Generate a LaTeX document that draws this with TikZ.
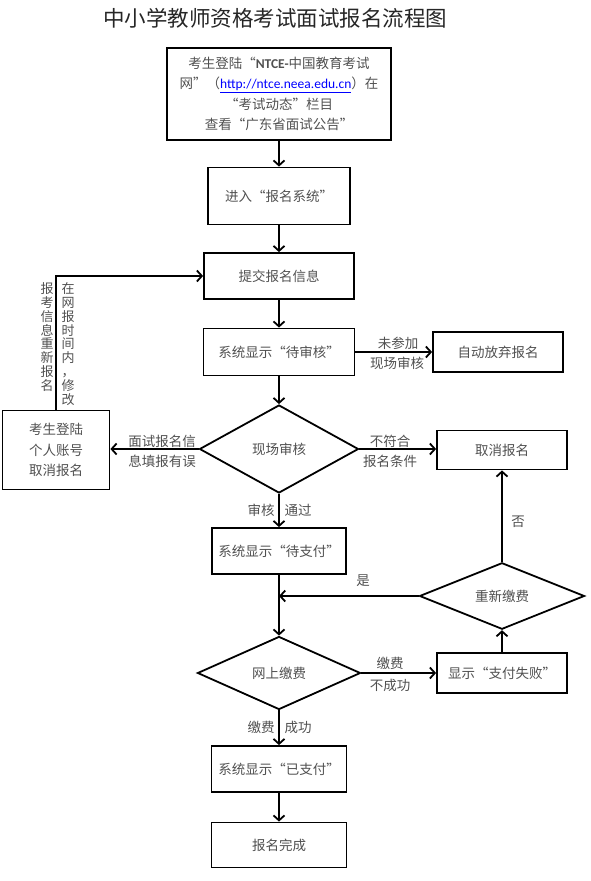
\documentclass[tikz,border=0pt]{standalone}
\usepackage{fontspec}
\setmainfont{Noto Sans CJK SC}
\newfontfamily\latfont{Carlito}
\usetikzlibrary{shapes.geometric,arrows.meta}
\definecolor{txtgray}{RGB}{80,80,80}
\tikzstyle{block} = [draw, line width=1.8pt, rectangle, text=txtgray,
    align=center, inner sep=2pt, font=\fontsize{13.5}{20.5}\selectfont]
\tikzstyle{decision} = [draw, line width=1.8pt, diamond, text=txtgray,
    inner sep=0pt, font=\fontsize{13.5}{20.5}\selectfont]
\tikzstyle{note} = [text=txtgray, inner sep=1pt, font=\fontsize{13.5}{20.5}\selectfont]
\tikzstyle{link} = [line width=1.8pt, -{Straight Barb[length=5pt,width=11pt]}]

\begin{document}
\begin{tikzpicture}[x=1pt,y=-1pt]
\useasboundingbox (0,0) rectangle (590,881);

\node[font=\fontsize{21.5}{24}\selectfont, text=black!85] (title) at (275,18) {中小学教师资格考试面试报名流程图};

% main column
\node[block, minimum width=224pt, minimum height=92pt] (login) at (279,94)
  {考生登陆“{\latfont\bfseries NTCE-}中国教育考试\\网”（{\latfont\color{blue}\underline{http://ntce.neea.edu.cn}}）在\\“考试动态”栏目\\查看“广东省面试公告”};
\node[block, minimum width=142pt, minimum height=57pt] (enter) at (279,196) {进入“报名系统”};
\node[block, minimum width=150pt, minimum height=46pt] (submit) at (279,276) {提交报名信息};
\node[block, minimum width=151pt, minimum height=47pt] (pending) at (279,352) {系统显示“待审核”};
\node[decision, minimum width=159pt, minimum height=88pt] (check) at (279,449) {现场审核};
\node[block, minimum width=134pt, minimum height=46pt] (topay) at (279,551) {系统显示“待支付”};
\node[decision, minimum width=163pt, minimum height=73pt] (pay) at (279,673) {网上缴费};
\node[block, minimum width=135pt, minimum height=46pt] (paid) at (279,769) {系统显示“已支付”};
\node[block, minimum width=135pt, minimum height=45pt] (done) at (279,845) {报名完成};

% side boxes
\node[block, minimum width=130pt, minimum height=40pt] (abandon) at (498,352) {自动放弃报名};
\node[block, minimum width=107pt, minimum height=79pt] (cancelself) at (56,450) {考生登陆\\个人账号\\取消报名};
\node[block, minimum width=130pt, minimum height=39pt] (cancel) at (502,450) {取消报名};
\node[decision, minimum width=165pt, minimum height=64pt] (retry) at (502,596) {重新缴费};
\node[block, minimum width=130pt, minimum height=40pt] (fail) at (502,673) {显示“支付失败”};

% arrows
\draw[link] (login) -- (enter);
\draw[link] (enter) -- (submit);
\draw[link] (submit) -- (pending);
\draw[link] (pending) -- (check);
\draw[link] (check) -- (topay);
\draw[link] (topay) -- (pay);
\draw[link] (pay) -- (paid);
\draw[link] (paid) -- (done);
\draw[link] (pending.east) -- (pending.east -| abandon.west);
\draw[link] (check.east) -- (check.east -| cancel.west);
\draw[link] (check.west) -- (check.west -| cancelself.east);
\draw[link] (cancelself.north) |- (submit.west);
\draw[link] (pay.east) -- (pay.east -| fail.west);
\draw[link] (fail) -- (retry);
\draw[link] (retry) -- (cancel);
\draw[link] (retry.west) -- (retry.west -| topay.south);

% labels
\node[note] (l1a) at (398,343) {未参加};
\node[note] (l1b) at (397,363) {现场审核};
\node[note] (l2a) at (390,441) {不符合};
\node[note] (l2b) at (390,461) {报名条件};
\node[note] (l3a) at (162,441) {面试报名信};
\node[note] (l3b) at (162,461) {息填报有误};
\node[note] (l4a) at (261,510) {审核};
\node[note] (l4b) at (298,510) {通过};
\node[note] (l5) at (363,581) {是};
\node[note] (l6) at (518,522) {否};
\node[note] (l7a) at (390,663) {缴费};
\node[note] (l7b) at (390,685) {不成功};
\node[note] (l8a) at (261,727) {缴费};
\node[note] (l8b) at (298,727) {成功};
\node[note, align=center, font=\fontsize{13}{13.8}\selectfont] (v1) at (47,337) {报\\考\\信\\息\\重\\新\\报\\名};
\node[note, align=center, font=\fontsize{13}{13.8}\selectfont] (v2) at (68,344) {在\\网\\报\\时\\间\\内\\，\\修\\改};

\end{tikzpicture}
\end{document}
